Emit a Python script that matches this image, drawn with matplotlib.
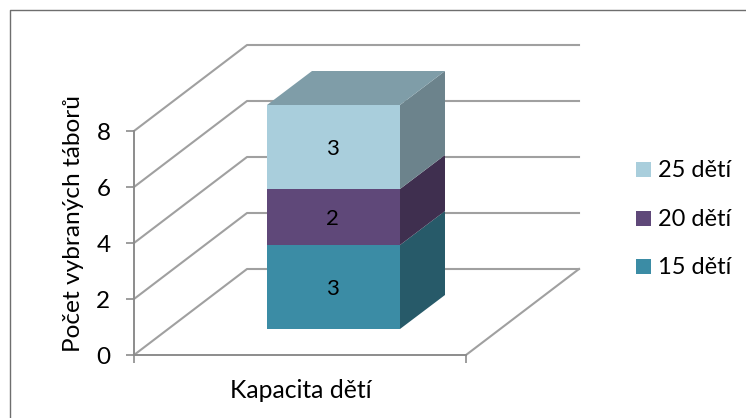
"""Stacked 3D-look column chart: capacity of the selected camps."""
import matplotlib
matplotlib.use("Agg")
import matplotlib.pyplot as plt
from matplotlib.lines import Line2D
from matplotlib.patches import Polygon, Rectangle

plt.rcParams["font.family"] = ["Lato", "DejaVu Sans"]

W, H = 746, 418
series = ["15 dětí", "20 dětí", "25 dětí"]
values = [3, 2, 3]
front_colors = ["#3B8CA5", "#5F4879", "#A9CEDC"]
side_colors = ["#275A69", "#3F2F4F", "#6C838C"]
top_color = "#7F9DA8"
yticks = [0, 2, 4, 6, 8]
ylabel = "Počet vybraných táborů"
xlabel = "Kapacita dětí"

PX = 28.0                # pixels per unit on the y axis
Y0 = 355                 # pixel row of value 0
X_L, X_R = 134, 466      # front edge of the floor
DX, DY = 113, 86 / PX    # wall depth
BAR_L, BAR_R = 267, 400
BAR_DX, BAR_DY = 45, 34 / PX
BAR_BASE = (Y0 - 329) / PX
GRID = "#A0A0A0"
AXIS = "#8C8C8C"

fig = plt.figure(figsize=(W / 100, H / 100), dpi=100)
ax = fig.add_axes([0, 0, 1, 1])
ax.set_xlim(0, W)
ax.set_ylim((Y0 - H) / PX, Y0 / PX)    # x in pixels, y in chart values
ax.patch.set_visible(False)

# chart frame: only the top and left edges are inside the picture
fig.add_artist(Line2D([10 / W, 10 / W, 1], [0, 1 - 10 / H, 1 - 10 / H], transform=fig.transFigure,
                      color="#6E6E6E", lw=1.0))

# walls and floor
for v in yticks:
    ax.plot([X_L, X_L + DX, X_R + DX], [v, v + DY, v + DY], color=GRID, lw=1.5, zorder=1)
ax.plot([X_R, X_R + DX], [0, DY], color=GRID, lw=1.5, zorder=1)

# stacked column
bottom = BAR_BASE
for val, c, cs in zip(values, front_colors, side_colors):
    ax.bar(BAR_L, val, width=BAR_R - BAR_L, bottom=bottom, align="edge", color=c, lw=0, zorder=3)
    ax.add_patch(Polygon([(BAR_R, bottom), (BAR_R + BAR_DX, bottom + BAR_DY),
                          (BAR_R + BAR_DX, bottom + val + BAR_DY), (BAR_R, bottom + val)],
                         fc=cs, lw=0, zorder=3))
    ax.text((BAR_L + BAR_R) / 2 - 1, bottom + val / 2 - 2 / PX, str(val), ha="center", va="center",
            fontsize=16, color="black", zorder=4)
    bottom += val
ax.add_patch(Polygon([(BAR_L, bottom), (BAR_R, bottom), (BAR_R + BAR_DX, bottom + BAR_DY),
                      (BAR_L + BAR_DX, bottom + BAR_DY)], fc=top_color, lw=0, zorder=3))

# axes
for s in ["top", "right"]:
    ax.spines[s].set_visible(False)
ax.spines["left"].set_position(("data", X_L))
ax.spines["left"].set_bounds(0, yticks[-1])
ax.spines["bottom"].set_position(("data", 0))
ax.spines["bottom"].set_bounds(X_L, X_R)
for s in ["left", "bottom"]:
    ax.spines[s].set_color(AXIS)
    ax.spines[s].set_linewidth(1.4)
ax.set_yticks(yticks)
ax.set_xticks([X_L, X_R])
ax.set_xticklabels([])
ax.tick_params(axis="y", length=6, width=1.2, color=AXIS, labelsize=17.5, pad=11)
ax.tick_params(axis="x", length=6, width=1.2, color=AXIS)
ax.text(301, (Y0 - 390) / PX, xlabel, ha="center", va="center", fontsize=17.8)
ax.text(74, (Y0 - 223) / PX, ylabel, ha="center", va="center", rotation=90, fontsize=17.6)

# legend
for name, c, row in zip(series, front_colors, [266.5, 218.5, 169.5]):
    ax.add_patch(Rectangle((636, (Y0 - row - 7.5) / PX), 15, 15 / PX, fc=c, lw=0))
    ax.text(658, (Y0 - row - 1) / PX, name, ha="left", va="center", fontsize=17)

fig.savefig("out.png", dpi=100)
